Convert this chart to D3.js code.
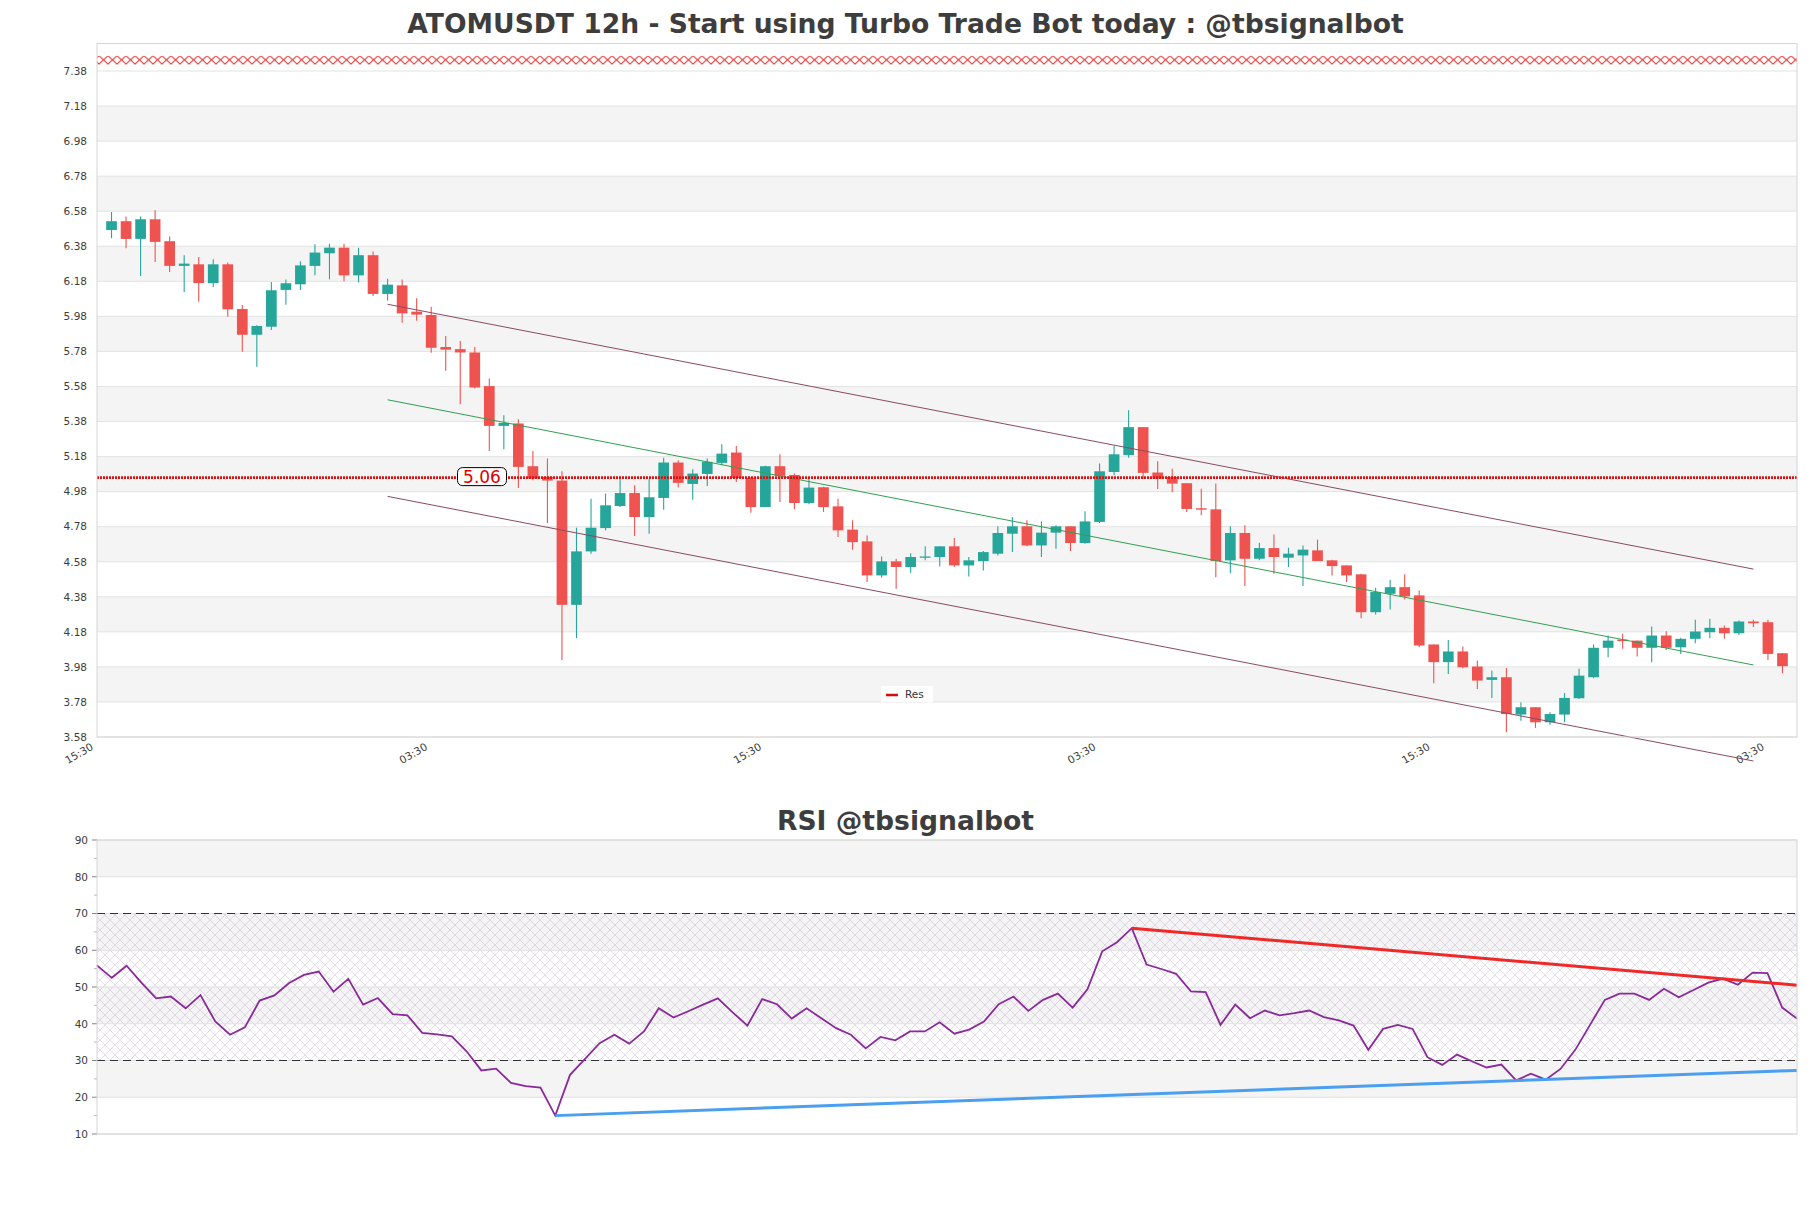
<!DOCTYPE html>
<html>
<head>
<meta charset="utf-8">
<script src="https://cdn.jsdelivr.net/npm/d3@7"></script>
<style>
body{margin:0;background:#fff;}
text{font-family:"DejaVu Sans",sans-serif;}
</style>
</head>
<body>
<svg id="chart" width="1811" height="1208"></svg>
<script>
// candles, 12h
var opens=[6.473,6.523,6.422,6.534,6.409,6.268,6.277,6.17,6.277,6.022,5.875,5.921,6.131,6.163,6.268,6.34,6.372,6.214,6.329,6.108,
6.157,6.007,5.988,5.805,5.793,5.774,5.582,5.355,5.369,5.125,5.064,5.043,4.334,4.639,4.772,4.898,4.972,4.835,4.944,5.146,
5.024,5.081,5.144,5.203,5.058,4.892,5.125,5.075,4.915,5.005,4.896,4.763,4.696,4.502,4.582,4.55,4.603,4.607,4.668,4.559,
4.584,4.626,4.74,4.782,4.673,4.746,4.782,4.687,4.807,5.092,5.188,5.348,5.089,5.064,5.028,4.885,4.879,4.588,4.744,4.597,
4.658,4.603,4.616,4.645,4.588,4.559,4.508,4.292,4.397,4.435,4.388,4.108,4.007,4.068,3.982,3.906,3.921,3.708,3.75,3.664,
3.708,3.801,3.921,4.089,4.136,4.13,4.089,4.159,4.092,4.14,4.178,4.203,4.172,4.239,4.235,4.058];
var highs=[6.576,6.55,6.55,6.586,6.435,6.329,6.319,6.306,6.287,6.045,5.93,6.176,6.191,6.294,6.391,6.395,6.395,6.372,6.35,6.195,
6.19,6.083,6.035,5.868,5.839,5.805,5.626,5.416,5.393,5.212,5.169,5.096,4.774,4.94,4.969,5.054,5.016,5.054,5.174,5.159,
5.108,5.169,5.25,5.241,5.064,5.127,5.193,5.083,5.054,5.007,4.94,4.816,4.73,4.61,4.597,4.629,4.668,4.668,4.715,4.607,
4.641,4.782,4.835,4.816,4.81,4.788,4.782,4.868,5.14,5.241,5.445,5.348,5.153,5.111,5.028,4.997,5.026,4.782,4.788,4.689,
4.736,4.66,4.673,4.706,4.591,4.559,4.511,4.431,4.477,4.508,4.416,4.108,4.134,4.096,4.016,3.959,3.974,3.778,3.75,3.721,
3.831,3.969,4.108,4.159,4.169,4.13,4.21,4.184,4.146,4.249,4.254,4.216,4.245,4.249,4.249,4.058];
var lows=[6.426,6.369,6.21,6.29,6.233,6.119,6.064,6.148,5.978,5.778,5.692,5.902,6.047,6.131,6.214,6.191,6.18,6.174,6.096,6.07,
5.944,5.955,5.772,5.67,5.479,5.569,5.212,5.222,5.001,5.045,4.801,4.02,4.144,4.626,4.759,4.892,4.727,4.74,4.877,5.003,
4.934,5.012,5.13,5.035,4.86,4.892,4.921,4.879,4.908,4.864,4.721,4.649,4.464,4.488,4.426,4.517,4.588,4.553,4.55,4.496,
4.53,4.616,4.635,4.668,4.607,4.654,4.641,4.683,4.801,5.073,5.174,5.054,4.995,4.976,4.864,4.845,4.492,4.515,4.441,4.588,
4.511,4.55,4.441,4.584,4.502,4.464,4.258,4.279,4.308,4.365,4.092,3.887,3.94,3.972,3.854,3.803,3.607,3.673,3.632,3.65,
3.664,3.797,3.915,4.035,4.083,4.039,4.007,4.077,4.054,4.115,4.144,4.14,4.163,4.207,4.02,3.944];
var closes=[6.523,6.422,6.534,6.405,6.268,6.281,6.17,6.277,6.02,5.875,5.925,6.129,6.169,6.271,6.344,6.372,6.214,6.329,6.108,6.161,
5.997,5.99,5.801,5.79,5.774,5.574,5.355,5.372,5.121,5.054,5.043,4.334,4.639,4.774,4.902,4.972,4.835,4.948,5.146,5.03,
5.083,5.15,5.197,5.058,4.892,5.125,5.07,4.915,5.003,4.892,4.759,4.692,4.502,4.582,4.55,4.607,4.61,4.668,4.559,4.588,
4.635,4.744,4.782,4.673,4.746,4.782,4.687,4.81,5.096,5.193,5.348,5.087,5.054,5.026,4.881,4.877,4.584,4.744,4.597,4.658,
4.607,4.626,4.649,4.584,4.555,4.502,4.292,4.407,4.435,4.382,4.102,4.007,4.068,3.978,3.902,3.921,3.711,3.75,3.664,3.711,
3.803,3.93,4.089,4.13,4.127,4.089,4.159,4.089,4.14,4.182,4.203,4.172,4.239,4.229,4.054,3.984];

var rsi=[55.9,52.5,55.8,51.2,46.9,47.4,44.2,47.8,40.6,37.0,
39.0,46.3,47.7,51.1,53.3,54.2,48.7,52.2,45.2,47.0,
42.6,42.3,37.5,37.1,36.6,32.5,27.3,27.8,23.9,23.0,
22.6,15.0,26.1,30.4,34.7,37.0,34.6,37.9,44.2,41.7,
43.4,45.2,46.9,43.1,39.5,46.7,45.3,41.4,44.2,41.5,
38.8,37.0,33.3,36.4,35.5,37.9,37.9,40.4,37.3,38.4,
40.6,45.3,47.4,43.5,46.5,48.2,44.4,49.4,59.7,62.2,
66.0,56.1,54.9,53.6,48.8,48.6,39.7,45.2,41.5,43.6,
42.3,42.9,43.6,41.8,40.9,39.5,32.9,38.6,39.7,38.6,
30.9,28.8,31.6,29.8,28.1,28.9,24.6,26.4,24.8,27.7,
32.9,39.7,46.5,48.2,48.2,46.5,49.5,47.2,49.2,51.2,
52.3,50.6,53.9,53.8,44.4,41.4];

var priceTicks=[3.58,3.78,3.98,4.18,4.38,4.58,4.78,4.98,5.18,5.38,5.58,5.78,5.98,6.18,6.38,6.58,6.78,6.98,7.18,7.38];
var timeTicks=[-1,22,45,68,91,114];
var timeLabels=['15:30','03:30','15:30','03:30','15:30','03:30'];
var rsiTicks=[10,20,30,40,50,60,70,80,90];
var rsiMinor=[15,25,35,45,55,65,75,85];

// channel [index, price]
var chanUpper=[[19,6.049],[113,4.538]];
var chanMid=[[19,5.504],[113,3.991]];
var chanLower=[[19,4.953],[113,3.443]];
var resLevel=5.06;
var topZone=[7.418,7.466];
// rsi trend lines [index, value]
var rsiRes=[[70,66.0],[115,50.5]];
var rsiSup=[[31,15.0],[115,27.3]];

var svg=d3.select('#chart');
var L=97,R=1797;
var top1=43.5,bot1=737;
var top2=840,bot2=1134;
var green='#26a69a',red='#ef5350';

var defs=svg.append('defs');
var hp=defs.append('pattern').attr('id','hatch').attr('patternUnits','userSpaceOnUse')
  .attr('width',10).attr('height',10);
hp.append('path').attr('d','M0,0L10,10M10,0L0,10').attr('stroke','#b49cc6').attr('stroke-width',0.7).attr('opacity',0.5);
var zp=defs.append('pattern').attr('id','zone').attr('patternUnits','userSpaceOnUse')
  .attr('width',9).attr('height',8.4).attr('y',55.7);
zp.append('path').attr('d','M0,0L9,8.4M9,0L0,8.4').attr('stroke','#e02a2a').attr('stroke-width',1);
defs.append('clipPath').attr('id','clip1').append('rect')
  .attr('x',L).attr('y',top1).attr('width',R-L).attr('height',bot1-top1);

var x=d3.scaleLinear().domain([-1,116]).range([L,R]);
var y=d3.scaleLinear().domain([3.58,7.38]).range([bot1,71]);

// title
svg.append('text').attr('x',905.5).attr('y',32.5).attr('text-anchor','middle')
  .attr('font-size',26.6).attr('font-weight','bold').attr('fill','#3d3d3d')
  .text('ATOMUSDT 12h - Start using Turbo Trade Bot today : @tbsignalbot');

var g1=svg.append('g');
priceTicks.forEach(function(t,j){
  if(j%2==1 && j<priceTicks.length-1){
    g1.append('rect').attr('x',L).attr('width',R-L)
      .attr('y',y(priceTicks[j+1])).attr('height',y(t)-y(priceTicks[j+1]))
      .attr('fill','#f4f4f4');
  }
});
g1.selectAll('.grid').data(priceTicks).enter().append('line')
  .attr('x1',L).attr('x2',R).attr('y1',d=>y(d)).attr('y2',d=>y(d))
  .attr('stroke','#e3e3e3').attr('stroke-width',1);
g1.selectAll('.yl').data(priceTicks).enter().append('text')
  .attr('x',87).attr('y',d=>y(d)+3.8).attr('text-anchor','end')
  .attr('font-size',10.5).attr('fill','#3c3c3c').text(d=>d.toFixed(2));

g1.append('rect').attr('x',L).attr('width',R-L)
  .attr('y',y(topZone[1])).attr('height',y(topZone[0])-y(topZone[1]))
  .attr('fill','url(#zone)');

g1.selectAll('.xl').data(timeTicks).enter().append('text')
  .attr('text-anchor','end').attr('font-size',10.5).attr('fill','#3c3c3c')
  .attr('transform',d=>'translate('+(x(d)-3)+','+(bot1+12)+') rotate(-30)')
  .text((d,i)=>timeLabels[i]);

// candles
var cg=svg.append('g').attr('clip-path','url(#clip1)');
var idx=d3.range(opens.length);
cg.selectAll('.wick').data(idx).enter().append('line')
  .attr('x1',i=>x(i)).attr('x2',i=>x(i))
  .attr('y1',i=>y(highs[i])).attr('y2',i=>y(lows[i]))
  .attr('stroke',i=>closes[i]>=opens[i]?green:red).attr('stroke-width',1.1);
cg.selectAll('.body').data(idx).enter().append('rect')
  .attr('x',i=>x(i)-5.35).attr('width',10.7)
  .attr('y',i=>y(Math.max(opens[i],closes[i])))
  .attr('height',i=>Math.max(1.3,Math.abs(y(opens[i])-y(closes[i]))))
  .attr('fill',i=>closes[i]>=opens[i]?green:red);

// channel
var cline=d3.line().x(d=>x(d[0])).y(d=>y(d[1]));
svg.append('path').datum(chanUpper).attr('d',cline).attr('fill','none').attr('stroke','#8a4a62').attr('stroke-width',1);
svg.append('path').datum(chanLower).attr('d',cline).attr('fill','none').attr('stroke','#8a4a62').attr('stroke-width',1);
svg.append('path').datum(chanMid).attr('d',cline).attr('fill','none').attr('stroke','#30a050').attr('stroke-width',1);

// resistance
svg.append('line').attr('x1',L).attr('x2',R).attr('y1',y(resLevel)).attr('y2',y(resLevel))
  .attr('stroke','#e01010').attr('stroke-width',2.6).attr('stroke-dasharray','2,1');
svg.append('rect').attr('x',457.5).attr('y',y(resLevel)-10).attr('width',49).attr('height',18)
  .attr('rx',5).attr('fill','#fff').attr('stroke','#000').attr('stroke-width',1);
svg.append('text').attr('x',482).attr('y',y(resLevel)+5.5).attr('text-anchor','middle')
  .attr('font-size',17).attr('fill','#e00000').text(resLevel.toFixed(2));

// legend
svg.append('rect').attr('x',881).attr('y',686).attr('width',52).attr('height',16).attr('fill','#fff').attr('opacity',0.9);
svg.append('line').attr('x1',886).attr('x2',898).attr('y1',695).attr('y2',695).attr('stroke','#d01010').attr('stroke-width',2.5);
svg.append('text').attr('x',905).attr('y',698).attr('font-size',10.5).attr('fill','#333').text('Res');

svg.append('rect').attr('x',L).attr('y',top1).attr('width',R-L).attr('height',bot1-top1)
  .attr('fill','none').attr('stroke','#d6d6d6').attr('stroke-width',1);

// RSI panel
var xr=d3.scaleLinear().domain([0,rsi.length-1]).range([L,R]);
var yr=d3.scaleLinear().domain([10,90]).range([bot2,top2]);

svg.append('text').attr('x',905.5).attr('y',829.5).attr('text-anchor','middle')
  .attr('font-size',26.6).attr('font-weight','bold').attr('fill','#3d3d3d')
  .text('RSI @tbsignalbot');

var g2=svg.append('g');
[[20,30],[40,50],[60,70],[80,90]].forEach(function(b){
  g2.append('rect').attr('x',L).attr('width',R-L).attr('y',yr(b[1])).attr('height',yr(b[0])-yr(b[1])).attr('fill','#f4f4f4');
});
g2.append('rect').attr('x',L).attr('width',R-L).attr('y',yr(70)).attr('height',yr(30)-yr(70)).attr('fill','url(#hatch)');
g2.selectAll('.rg').data(rsiTicks).enter().append('line')
  .attr('x1',L).attr('x2',R).attr('y1',d=>yr(d)).attr('y2',d=>yr(d))
  .attr('stroke','#e0e0e0').attr('stroke-width',1);
g2.selectAll('.rt').data(rsiTicks).enter().append('line')
  .attr('x1',L-5).attr('x2',L).attr('y1',d=>yr(d)).attr('y2',d=>yr(d))
  .attr('stroke','#666').attr('stroke-width',0.8);
g2.selectAll('.rm').data(rsiMinor).enter().append('line')
  .attr('x1',L-3).attr('x2',L).attr('y1',d=>yr(d)).attr('y2',d=>yr(d))
  .attr('stroke','#888').attr('stroke-width',0.6);
g2.selectAll('.rl').data(rsiTicks).enter().append('text')
  .attr('x',88).attr('y',d=>yr(d)+3.8).attr('text-anchor','end')
  .attr('font-size',10.5).attr('fill','#3c3c3c').text(d=>d);
[70,30].forEach(function(v){
  g2.append('line').attr('x1',L).attr('x2',R).attr('y1',yr(v)).attr('y2',yr(v))
    .attr('stroke','#333').attr('stroke-width',1.2).attr('stroke-dasharray','8,5');
});

var rline=d3.line().x((d,i)=>xr(i)).y(d=>yr(d));
g2.append('path').datum(rsi).attr('d',rline).attr('fill','none').attr('stroke','#8a2a9a').attr('stroke-width',1.8);
var tline=d3.line().x(d=>xr(d[0])).y(d=>yr(d[1]));
g2.append('path').datum(rsiRes).attr('d',tline).attr('fill','none').attr('stroke','#f02828').attr('stroke-width',3);
g2.append('path').datum(rsiSup).attr('d',tline).attr('fill','none').attr('stroke','#4a9ff0').attr('stroke-width',3);

g2.append('rect').attr('x',L).attr('y',top2).attr('width',R-L).attr('height',bot2-top2)
  .attr('fill','none').attr('stroke','#d6d6d6').attr('stroke-width',1);
</script>
</body>
</html>
